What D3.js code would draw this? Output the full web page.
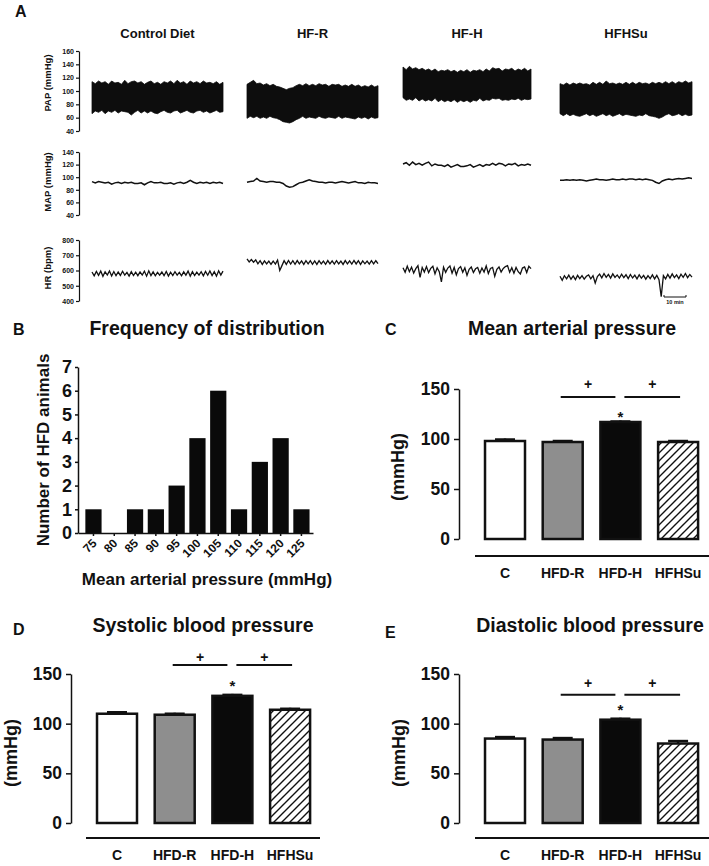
<!DOCTYPE html>
<html>
<head>
<meta charset="utf-8">
<script src="https://cdn.jsdelivr.net/npm/d3@7"></script>
<style>
body { margin: 0; background: #fff; }
svg { display: block; font-family: "Liberation Sans", Arial, sans-serif; font-weight: bold; }
svg text { fill: #111; }
</style>
</head>
<body>
<div id="container"></div>
<script>
// ---------- panel A : recordings (0-60 min) ----------
var groupsA = ["Control Diet", "HF-R", "HF-H", "HFHSu"];

var papUpperControl = [114,111,115,112,114,110,115,112,113,110,116,111,114,115,112,114,110,113,115,111,113,110,114,112,115,111,116,112,114,110,115,112,114,111,115,112,113,111,114,110,113];
var papLowerControl = [66,70,68,71,66,70,68,71,67,70,69,68,64,68,71,67,70,67,70,67,66,69,71,68,67,70,71,67,69,71,68,67,70,71,68,70,67,69,71,68,69];
var papUpperHFR = [110,113,116,111,112,109,111,108,110,107,106,104,102,104,105,108,110,108,111,108,110,108,111,109,110,107,110,109,110,107,109,107,110,107,109,106,108,106,109,106,108];
var papLowerHFR = [59,62,60,62,59,61,59,62,60,59,57,54,53,52,54,57,59,62,59,61,60,59,62,60,59,61,60,59,62,59,61,60,59,58,61,59,61,58,61,59,60];
var papUpperHFH = [136,132,137,133,135,132,134,131,133,130,133,129,131,130,132,129,131,128,131,129,132,128,131,130,132,129,133,130,135,133,134,130,133,132,134,130,133,131,134,130,133];
var papLowerHFH = [90,86,88,86,90,85,88,85,87,85,89,84,87,84,86,84,87,83,86,84,86,83,86,85,89,85,87,86,89,88,89,86,87,86,88,87,89,86,88,87,88];
var papUpperHFHSu = [111,109,112,109,112,110,112,110,111,109,113,110,113,110,115,111,112,110,112,110,113,110,113,110,113,111,112,110,113,111,113,111,114,111,114,111,114,112,115,112,114];
var papLowerHFHSu = [66,63,66,63,65,63,62,64,66,63,65,62,64,66,63,65,62,64,66,63,65,64,63,62,64,63,66,63,62,61,59,61,64,66,63,64,66,63,65,63,64];

var mapControl = [93,91,93,92,91,92,89,91,92,90,92,91,92,90,90,91,88,91,93,91,91,92,90,90,91,89,91,92,90,92,95,92,90,92,91,92,90,92,91,92,90];
var mapHFR = [92,93,94,98,94,93,92,93,93,92,92,90,86,84,85,88,91,92,94,96,94,93,92,92,91,92,92,91,92,93,92,91,92,93,91,91,90,92,91,91,90];
var mapHFH = [121,123,119,124,120,122,119,122,124,118,121,119,119,117,120,116,118,120,117,117,118,120,116,118,120,117,120,119,122,119,122,121,118,121,120,122,118,120,119,121,119];
var mapHFHSu = [95,95,96,95,96,95,96,95,94,95,96,97,96,96,95,96,97,96,96,97,96,97,97,96,97,96,97,96,95,92,90,94,96,97,96,97,98,97,98,99,98];

var hrControl = [590,565,594,568,596,562,592,570,597,564,593,566,590,568,595,570,588,563,592,567,589,566,591,570,596,563,598,567,591,565,588,569,590,566,593,563,589,567,592,570,588,565,591,569,596,563,592,567,589,570,592,565,594,569,597,567,593,563,598,570,596];
var hrHFR = [676,656,672,654,670,644,664,640,663,643,662,641,661,642,668,600,632,664,640,666,642,664,641,665,643,663,640,664,644,665,641,663,640,664,643,662,641,665,643,663,642,664,643,662,640,665,644,663,642,666,643,664,640,663,644,662,642,665,643,664,645];
var hrHFH = [618,588,628,592,622,583,612,632,555,620,590,626,586,614,628,578,618,592,525,622,588,616,630,582,620,572,613,626,588,618,568,608,623,587,611,620,582,616,590,630,580,613,620,562,608,623,590,613,626,632,588,618,582,620,592,577,616,623,587,628,612];
var hrHFHSu = [562,536,566,545,570,543,564,540,568,547,566,543,562,571,545,566,518,560,576,552,580,555,574,550,578,555,571,550,576,553,572,547,574,551,570,545,572,550,568,543,566,547,571,545,568,540,428,566,545,574,550,578,553,571,547,576,555,580,553,574,556];

var papTicks = [40,60,80,100,120,140,160];
var mapTicks = [40,60,80,100,120,140];
var hrTicks = [400,500,600,700,800];

// ---------- panel B : frequency of distribution ----------
var mapBins = ["75","80","85","90","95","100","105","110","115","120","125"];
var hfdCounts = [1,0,1,1,2,4,6,1,3,4,1];
var countTicks = [0,1,2,3,4,5,6,7];

// ---------- panels C, D, E : group means ----------
var barGroups = ["C","HFD-R","HFD-H","HFHSu"];
var mapMean = [98,97,117,97];
var mapSem = [2.5,2,1.5,2];
var sbpMean = [110,109,128,114];
var sbpSem = [2.5,2,2,2];
var dbpMean = [85,84,104,80];
var dbpSem = [2.5,2.5,2,3.5];
var barTicks = [0,50,100,150];
var sigPairs = [["HFD-R","HFD-H"],["HFD-H","HFHSu"]];
var starGroup = "HFD-H";

var width = 709, height = 866;
var FONT = "Liberation Sans, Arial, sans-serif";

var svg = d3.select("#container").append("svg")
    .attr("width", width)
    .attr("height", height);

svg.append("rect").attr("width", width).attr("height", height).attr("fill", "#fff");

var defs = svg.append("defs");
defs.append("pattern")
    .attr("id", "hatch")
    .attr("patternUnits", "userSpaceOnUse")
    .attr("width", 8).attr("height", 8)
    .append("path")
    .attr("d", "M-2,2 l4,-4 M0,8 l8,-8 M6,10 l4,-4")
    .attr("stroke", "#111")
    .attr("stroke-width", 1.4);

// panel letters
function letter(t, x, y) {
    svg.append("text").attr("x", x).attr("y", y)
        .attr("font-size", 16).attr("font-weight", "bold").text(t);
}
letter("A", 15, 17);
letter("B", 13, 335);
letter("C", 385, 335);
letter("D", 13, 635);
letter("E", 385, 638);

function styleAxis(g, fs, sw) {
    g.attr("font-family", FONT).attr("font-size", fs).attr("font-weight", "bold");
    g.select(".domain").attr("stroke", "#111").attr("stroke-width", sw);
    g.selectAll(".tick line").attr("stroke", "#111").attr("stroke-width", sw);
    g.selectAll(".tick text").attr("fill", "#111");
}

// ================= Panel A =================
var colRanges = [[92,223],[247,378],[403,531],[560,692]];
var yPap = d3.scaleLinear().domain([40,160]).range([131,51]);
var yMap = d3.scaleLinear().domain([40,140]).range([215,152]);
var yHr = d3.scaleLinear().domain([400,800]).range([301,240]);

//column titles
groupsA.forEach(function (g, i) {
    svg.append("text")
        .attr("x", (colRanges[i][0] + colRanges[i][1]) / 2)
        .attr("y", 38)
        .attr("text-anchor", "middle")
        .attr("font-size", 13)
        .text(g);
});

function traceAxis(scale, ticks, label, labelY) {
    var g = svg.append("g").attr("transform", "translate(79,0)")
        .call(d3.axisLeft(scale).tickValues(ticks).tickSize(3).tickSizeOuter(0).tickPadding(2));
    styleAxis(g, 7, 1.2);
    svg.append("text")
        .attr("transform", "translate(51," + labelY + ") rotate(-90)")
        .attr("text-anchor", "middle")
        .attr("font-size", 9.5)
        .text(label);
}
traceAxis(yPap, papTicks, "PAP (mmHg)", 83);
traceAxis(yMap, mapTicks, "MAP (mmHg)", 182);
traceAxis(yHr, hrTicks, "HR (bpm)", 268);

var papUpper = [papUpperControl, papUpperHFR, papUpperHFH, papUpperHFHSu];
var papLower = [papLowerControl, papLowerHFR, papLowerHFH, papLowerHFHSu];
var mapTraces = [mapControl, mapHFR, mapHFH, mapHFHSu];
var hrTraces = [hrControl, hrHFR, hrHFH, hrHFHSu];

groupsA.forEach(function (g, i) {
    var x = d3.scaleLinear().domain([0, 60]).range(colRanges[i]);

    var up = papUpper[i], lo = papLower[i];
    var stepP = 60 / (up.length - 1);
    var area = d3.area()
        .x(function (d, j) { return x(j * stepP); })
        .y0(function (d, j) { return yPap(lo[j]); })
        .y1(function (d) { return yPap(d); });
    svg.append("path").datum(up)
        .attr("d", area)
        .attr("fill", "#0d0d0d")
        .attr("stroke", "#0d0d0d")
        .attr("stroke-width", 0.8);

    var m = mapTraces[i];
    var stepM = 60 / (m.length - 1);
    svg.append("path").datum(m)
        .attr("d", d3.line()
            .x(function (d, j) { return x(j * stepM); })
            .y(function (d) { return yMap(d); }))
        .attr("fill", "none")
        .attr("stroke", "#111")
        .attr("stroke-width", 1.5);

    var h = hrTraces[i];
    var stepH = 60 / (h.length - 1);
    svg.append("path").datum(h)
        .attr("d", d3.line()
            .x(function (d, j) { return x(j * stepH); })
            .y(function (d) { return yHr(d); }))
        .attr("fill", "none")
        .attr("stroke", "#111")
        .attr("stroke-width", 1.3);
});

// 10 min scale bar
var xScaleBar = d3.scaleLinear().domain([0, 60]).range(colRanges[3]);
var sb0 = xScaleBar(60) - (xScaleBar(10) - xScaleBar(0)) - 6;
var sb1 = sb0 + (xScaleBar(10) - xScaleBar(0));
svg.append("path")
    .attr("d", "M" + sb0 + ",295 V297 H" + sb1 + " V295")
    .attr("fill", "none").attr("stroke", "#111").attr("stroke-width", 1);
svg.append("text").attr("x", (sb0 + sb1) / 2).attr("y", 304)
    .attr("text-anchor", "middle").attr("font-size", 5.5).text("10 min");

// ================= Panel B =================
var xB = d3.scaleBand().domain(mapBins).range([78, 313])
    .paddingInner(0.22).paddingOuter(0.26).align(0.68);
var yB = d3.scaleLinear().domain([0, 7]).range([533, 367]);

svg.append("text").attr("x", 207).attr("y", 335)
    .attr("text-anchor", "middle").attr("font-size", 19.5)
    .text("Frequency of distribution");

svg.selectAll(".hbar")
    .data(hfdCounts)
    .enter().append("rect")
    .attr("class", "hbar")
    .attr("x", function (d, i) { return xB(mapBins[i]); })
    .attr("width", xB.bandwidth())
    .attr("y", function (d) { return yB(d); })
    .attr("height", function (d) { return yB(0) - yB(d); })
    .attr("fill", "#0a0a0a");

var gBy = svg.append("g").attr("transform", "translate(78,0)")
    .call(d3.axisLeft(yB).tickValues(countTicks).tickFormat(d3.format("d"))
        .tickSize(3).tickSizeOuter(0).tickPadding(3));
styleAxis(gBy, 18, 1.5);

var gBx = svg.append("g").attr("transform", "translate(0,533)")
    .call(d3.axisBottom(xB).tickSize(3).tickSizeOuter(0));
styleAxis(gBx, 12, 1.5);
gBx.selectAll(".tick text")
    .attr("text-anchor", "end")
    .attr("dy", null)
    .attr("y", 0)
    .attr("transform", "translate(4,11) rotate(-45)");

svg.append("text")
    .attr("transform", "translate(49,450) rotate(-90)")
    .attr("text-anchor", "middle").attr("font-size", 17)
    .text("Number of HFD animals");
svg.append("text").attr("x", 207).attr("y", 585)
    .attr("text-anchor", "middle").attr("font-size", 17)
    .text("Mean arterial pressure (mmHg)");

// ================= Panels C, D, E =================
var barFill = { "C": "#ffffff", "HFD-R": "#8e8e8e", "HFD-H": "#0a0a0a", "HFHSu": "url(#hatch)" };

function barPanel(p) {
    var x = d3.scaleBand().domain(barGroups).range(p.xRange).padding(0.307);
    var y = d3.scaleLinear().domain([0, 150]).range(p.yRange);
    var bw = x.bandwidth();
    var cx = function (g) { return x(g) + bw / 2; };

    svg.append("text").attr("x", p.titleX).attr("y", p.titleY)
        .attr("text-anchor", "middle").attr("font-size", 19.5).text(p.title);

    var gy = svg.append("g").attr("transform", "translate(" + p.axisX + ",0)")
        .call(d3.axisLeft(y).tickValues(barTicks).tickSize(5).tickSizeOuter(0).tickPadding(4));
    styleAxis(gy, 17.5, 1.5);

    svg.append("text")
        .attr("transform", "translate(" + p.labelX + "," + p.labelY + ") rotate(-90)")
        .attr("text-anchor", "middle").attr("font-size", 18).text("(mmHg)");

    // error bars (mean + SEM)
    barGroups.forEach(function (g, i) {
        var top = y(p.mean[i] + p.sem[i]);
        svg.append("line")
            .attr("x1", cx(g)).attr("x2", cx(g))
            .attr("y1", y(p.mean[i])).attr("y2", top)
            .attr("stroke", "#111").attr("stroke-width", 2.5);
        svg.append("line")
            .attr("x1", cx(g) - 10).attr("x2", cx(g) + 10)
            .attr("y1", top + 1).attr("y2", top + 1)
            .attr("stroke", "#111").attr("stroke-width", 2.5);
    });

    svg.append("g").selectAll("rect")
        .data(p.mean)
        .enter().append("rect")
        .attr("x", function (d, i) { return x(barGroups[i]); })
        .attr("width", bw)
        .attr("y", function (d) { return y(d); })
        .attr("height", function (d) { return y(0) - y(d); })
        .attr("fill", function (d, i) { return barFill[barGroups[i]]; })
        .attr("stroke", "#111")
        .attr("stroke-width", 2.5);

    // significance lines
    sigPairs.forEach(function (pair, k) {
        var a = cx(pair[0]) + (k === 0 ? -2 : 4);
        var b = cx(pair[1]) + (k === 0 ? -5 : 2);
        var ly = y(p.sigY);
        svg.append("line").attr("x1", a).attr("x2", b).attr("y1", ly).attr("y2", ly)
            .attr("stroke", "#111").attr("stroke-width", 2);
        svg.append("text").attr("x", (a + b) / 2).attr("y", ly - p.plusGap)
            .attr("text-anchor", "middle").attr("font-size", 14)
            .text("+");
    });

    var si = barGroups.indexOf(starGroup);
    svg.append("text").attr("x", cx(starGroup))
        .attr("y", y(p.mean[si] + p.sem[si]) + p.starGap)
        .attr("text-anchor", "middle").attr("font-size", 15).text("*");

    // group line and labels
    svg.append("line").attr("x1", p.baseX[0]).attr("x2", p.baseX[1])
        .attr("y1", p.baseY).attr("y2", p.baseY)
        .attr("stroke", "#111").attr("stroke-width", 2);
    barGroups.forEach(function (g) {
        svg.append("text").attr("x", cx(g)).attr("y", p.baseY + 22)
            .attr("text-anchor", "middle").attr("font-size", 14).text(g);
    });
}

barPanel({
    title: "Mean arterial pressure", titleX: 572, titleY: 335,
    mean: mapMean, sem: mapSem, sigY: 142, plusGap: 8, starGap: 1,
    xRange: [467.3, 715.8], yRange: [539, 389], axisX: 459,
    labelX: 404, labelY: 467, baseX: [475, 709], baseY: 556
});
barPanel({
    title: "Systolic blood pressure", titleX: 203, titleY: 632,
    mean: sbpMean, sem: sbpSem, sigY: 159, plusGap: 3, starGap: -3,
    xRange: [79.3, 327.8], yRange: [823, 674], axisX: 71,
    labelX: 17, labelY: 753, baseX: [86, 320], baseY: 838
});
barPanel({
    title: "Diastolic blood pressure", titleX: 590, titleY: 632,
    mean: dbpMean, sem: dbpSem, sigY: 129, plusGap: 7, starGap: -3,
    xRange: [467.3, 715.8], yRange: [823, 674], axisX: 459,
    labelX: 405, labelY: 753, baseX: [475, 709], baseY: 838
});
</script>
</body>
</html>
